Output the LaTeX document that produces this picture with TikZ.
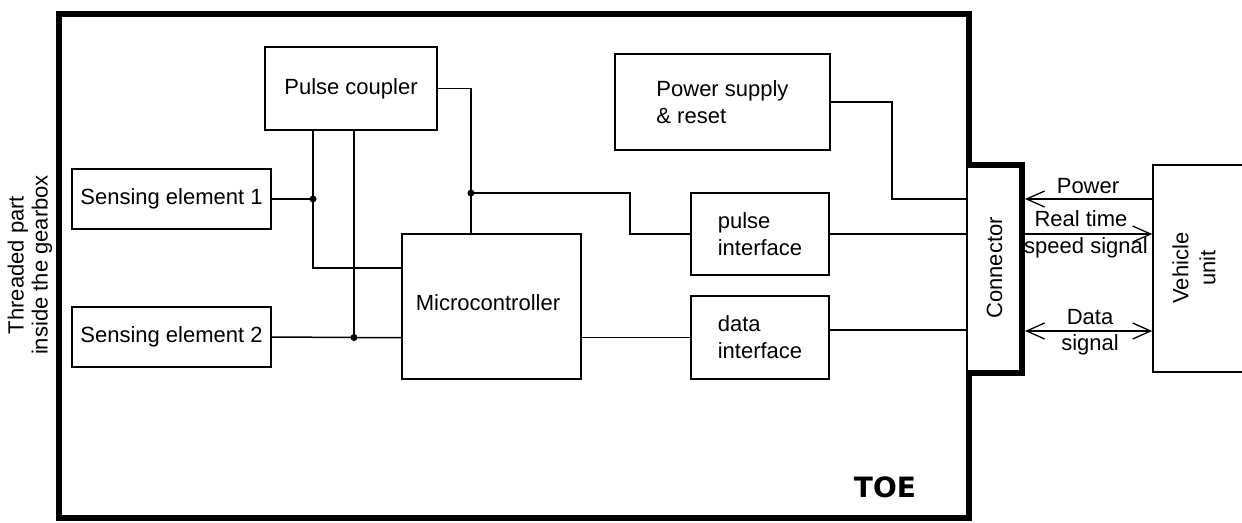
\documentclass[tikz,border=0pt]{standalone}
\usepackage{fontspec}
\setmainfont{Liberation Sans}
\newfontfamily\heavyfont{DejaVu Sans}
\usetikzlibrary{arrows.meta}

\begin{document}
\begin{tikzpicture}[x=1pt,y=-1pt,
  every node/.style={font=\fontsize{22}{27}\selectfont, inner sep=0pt},
  box/.style={draw, line width=1.5pt},
  wire/.style={line width=1.5pt},
  outline/.style={line width=6pt, line join=miter},
  dot/.style={circle, fill, minimum size=7pt, inner sep=0pt},
  barb/.style={line width=1.5pt},
  tip/.tip={Straight Barb[length=18pt, width=16pt, line width=1.3pt]}
]
\useasboundingbox (0,0) rectangle (1242,522);
\clip (0,0) rectangle (1242,522);

% housing of the sensor, with the connector bulging out on the right
\draw[outline] (59,14) -- (969,14) -- (969,165) -- (1022,165) -- (1022,373)
  -- (969,373) -- (969,518) -- (59,518) -- cycle;

% function blocks
\node[box, minimum width=172, minimum height=83] (pc) at (351,88.5) {Pulse coupler};
\node[box, minimum width=199, minimum height=60] (s1) at (171.5,199) {Sensing element 1};
\node[box, minimum width=199, minimum height=60] (s2) at (171.5,337) {Sensing element 2};
\node[box, minimum width=179, minimum height=145] (mc) at (491.5,306.5) {};
\node (mct) at (488,303) {Microcontroller};
\node[box, minimum width=138, minimum height=82, align=left] (pi) at (760,234) {pulse\\interface};
\node[box, minimum width=138, minimum height=83, align=left] (di) at (760,337.5) {data\\interface};
\node[box, minimum width=215, minimum height=96, align=left] (ps) at (722.5,102) {Power supply\\\& reset};
\node[box, minimum width=55, minimum height=208] (conn) at (994.5,269) {};
\node[rotate=90] (connt) at (994.5,268) {Connector};
\node[box, minimum width=120, minimum height=207] (vu) at (1213,268.5) {};
\node[rotate=90, align=center] (vut) at (1194,268) {Vehicle\\unit};

% labels outside the housing
\node[rotate=90, align=center, font=\fontsize{22}{24}\selectfont] (thr) at (30,265)
  {Threaded part\\inside the gearbox};
\node[font=\heavyfont\bfseries\fontsize{28}{30}\selectfont] (toe) at (885,487) {TOE};

% junctions and bends
\coordinate (j1) at (313,199);
\coordinate (j2) at (354,337.5);
\coordinate (j3) at (471,193);
\coordinate (k1) at (313,268);
\coordinate (b1) at (630,193);
\coordinate (b2) at (630,234);
\coordinate (dl) at (829,330);
\coordinate (pw1) at (892,102);
\coordinate (pw2) at (892,199);

% internal wiring
\draw[wire] (s1.east) -- (j1);
\draw[wire] (pc.south -| j1) -- (j1) -- (k1) -- (mc.west |- k1);
\draw[wire] (pc.south -| j2) -- (j2);
\draw[wire] (s2.east) -- (j2) -- (mc.west |- j2);
\draw[wire] (pc.east) -- (j3 |- pc.east) -- (j3) -- (mc.north -| j3);
\draw[wire] (j3) -- (b1) -- (b2) -- (pi.west);
\draw[wire] (pi.east) -- (b2 -| conn.west);
\draw[wire] (di.west -| mc.east) -- (di.west);
\draw[wire] (dl) -- (dl -| conn.west);
\draw[wire] (ps.east) -- (pw1) -- (pw2) -- (pw2 -| conn.west);
\node[dot] (d1) at (j1) {};
\node[dot] (d2) at (j2) {};
\node[dot] (d3) at (j3) {};

% signals between connector and vehicle unit
\coordinate (cp) at (1025,199);
\coordinate (cr) at (1025,234);
\coordinate (cd) at (1025,331);
\draw[barb, -tip] (vu.west |- cp) -- (cp);
\draw[barb, -tip] (cr) -- (vu.west |- cr);
\draw[barb, tip-tip] (cd) -- (vu.west |- cd);
\node (lp) at (1088,186) {Power};
\node (lr1) at (1081,219) {Real time};
\node (lr2) at (1086,248) {speed signal};
\node (ld1) at (1090,317) {Data};
\node (ld2) at (1090,345) {signal};
\end{tikzpicture}
\end{document}
